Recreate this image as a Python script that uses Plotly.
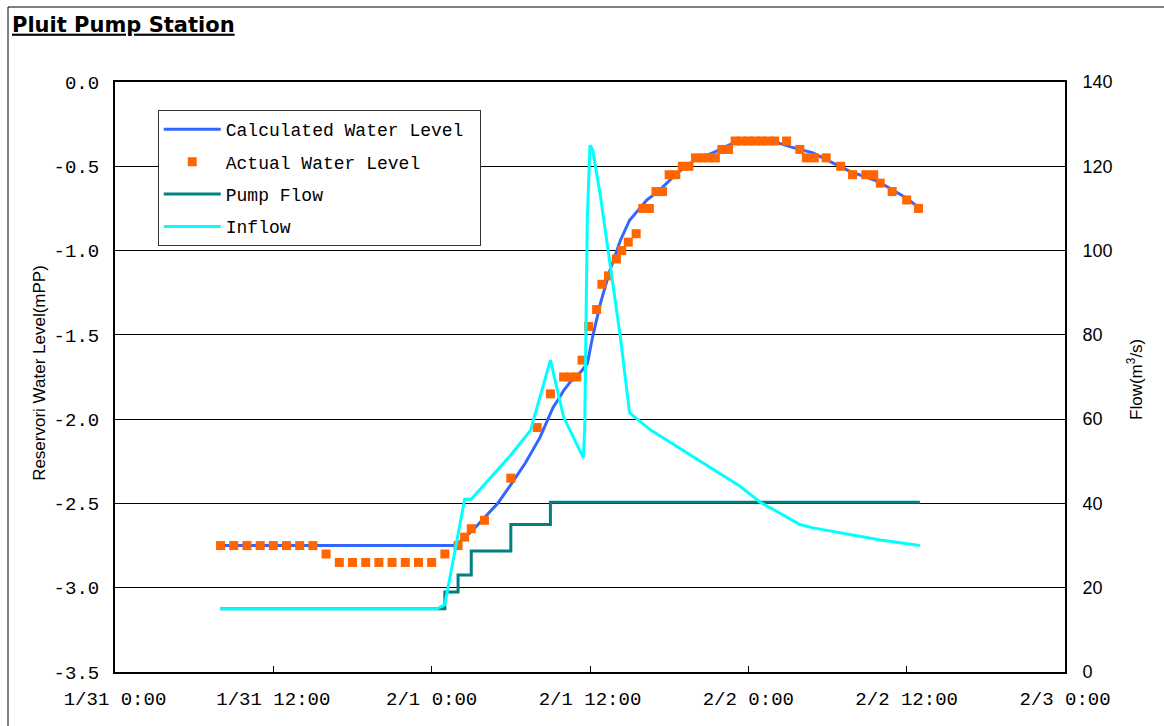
import pandas as pd
import plotly.graph_objects as go

BASE = pd.Timestamp("2007-01-31 00:00")

# ---- data (hours after 1/31 0:00) ----
calc_hours = [8, 25.8, 27.1, 29.0, 29.9, 31.1, 32.2, 33.2, 33.7, 34.0, 34.7, 35.3, 35.8, 36.2,
              36.8, 37.5, 38.3, 39.0, 40.3, 41.3, 42.6, 43.8, 45.6, 46.9, 48.9, 50.2, 51.2,
              52.9, 54.4, 55.7, 57.5, 58.5, 60.0, 61.0]
calc_level = [-2.75, -2.75, -2.66, -2.50, -2.40, -2.26, -2.11, -1.93, -1.87, -1.83, -1.76, -1.72,
              -1.67, -1.51, -1.31, -1.12, -0.94, -0.82, -0.70, -0.64, -0.54, -0.47, -0.41, -0.36,
              -0.345, -0.36, -0.385, -0.42, -0.48, -0.53, -0.58, -0.62, -0.69, -0.75]

actual_hours = [8, 9, 10, 11, 12, 13, 14, 15, 16, 17, 18, 19, 20, 21, 22, 23, 24, 25, 26, 26.5,
                27, 28, 30, 32, 33, 34, 34.5, 35, 35.4, 35.9, 36.5, 36.9, 37.4, 38.0, 38.4, 38.9,
                39.5, 40.0, 40.5, 41.0, 41.5, 42.0, 42.5, 43.0, 43.5, 44.0, 44.5, 45.0, 45.5,
                46.0, 46.5, 47.0, 47.5, 48.0, 48.5, 49.0, 49.5, 50.0, 50.9, 51.9, 52.4, 53.0,
                53.9, 55.0, 55.9, 56.9, 57.5, 58.0, 58.9, 60.0, 60.9]
actual_level = [-2.75, -2.75, -2.75, -2.75, -2.75, -2.75, -2.75, -2.75, -2.80, -2.85, -2.85,
                -2.85, -2.85, -2.85, -2.85, -2.85, -2.85, -2.80, -2.75, -2.70, -2.65, -2.60,
                -2.35, -2.05, -1.85, -1.75, -1.75, -1.75, -1.65, -1.45, -1.35, -1.20, -1.15,
                -1.05, -1.00, -0.95, -0.90, -0.75, -0.75, -0.65, -0.65, -0.55, -0.55, -0.50,
                -0.50, -0.45, -0.45, -0.45, -0.45, -0.40, -0.40, -0.35, -0.35, -0.35, -0.35,
                -0.35, -0.35, -0.35, -0.35, -0.40, -0.45, -0.45, -0.45, -0.50, -0.55, -0.55,
                -0.55, -0.60, -0.65, -0.70, -0.75]

pump_hours = [8, 25, 26, 27, 30, 33, 61]
pump_flow = [15, 19, 23, 28.7, 35, 40.3, 40.3]

inflow_hours = [8, 24.4, 25.0, 26.5, 27.0, 30.0, 31.5, 33.0, 34.0, 35.5, 35.6, 35.8, 36.0, 36.2,
                36.8, 38.3, 39.0, 40.6, 47.4, 48.9, 50.6, 51.9, 52.9, 55.0, 58.0, 61.0]
inflow_flow = [15, 15, 16, 41, 41, 51.5, 57.4, 74, 60.5, 50.8, 58, 108, 125, 124,
               112.7, 79.5, 61.5, 57.4, 44, 40.3, 37.3, 35, 34.2, 33, 31.3, 30]

x_tick_hours = [0, 12, 24, 36, 48, 60, 72]
x_tick_text = ["1/31 0:00", "1/31 12:00", "2/1 0:00", "2/1 12:00", "2/2 0:00", "2/2 12:00", "2/3 0:00"]
y_tick_vals = [0.0, -0.5, -1.0, -1.5, -2.0, -2.5, -3.0, -3.5]
y_tick_text = ["0.0", "-0.5", "-1.0", "-1.5", "-2.0", "-2.5", "-3.0", "-3.5"]
y2_tick_vals = [0, 20, 40, 60, 80, 100, 120, 140]


def to_time(hours):
    return [BASE + pd.Timedelta(hours=h) for h in hours]


MONO = "Liberation Mono"
SANS = "Liberation Sans"
NB = "\u00a0"

fig = go.Figure()
fig.add_trace(go.Scatter(x=to_time(calc_hours), y=calc_level, name="Calculated Water Level" + NB,
                         mode="lines", line=dict(color="#3366FF", width=3), legendgroup="a"))
fig.add_trace(go.Scatter(x=to_time(actual_hours), y=actual_level, name="Actual Water Level",
                         mode="markers", marker=dict(symbol="square", size=9, color="#FF6600"),
                         legendgroup="b"))
fig.add_trace(go.Scatter(x=to_time(pump_hours), y=pump_flow, name="Pump Flow", yaxis="y2",
                         mode="lines", line=dict(color="#008080", width=3, shape="hv"),
                         legendgroup="c"))
fig.add_trace(go.Scatter(x=to_time(inflow_hours), y=inflow_flow, name="Inflow", yaxis="y2",
                         mode="lines", line=dict(color="#00FFFF", width=3), legendgroup="d"))

fig.update_layout(
    width=1164, height=726,
    margin=dict(l=115, r=99, t=82, b=54),
    paper_bgcolor="white", plot_bgcolor="white",
    showlegend=True,
    legend=dict(x=0.045, y=0.9525, xanchor="left", yanchor="top",
                bgcolor="white", bordercolor="#333333", borderwidth=1,
                font=dict(family=MONO, size=18, color="black"),
                itemwidth=57, tracegroupgap=6, traceorder="grouped"),
    xaxis=dict(type="date", range=[BASE, BASE + pd.Timedelta(hours=72)],
               tickvals=to_time(x_tick_hours), ticktext=x_tick_text,
               ticks="inside", ticklen=6, tickcolor="black", tickwidth=1,
               showline=True, linecolor="black", linewidth=2, mirror=True,
               showgrid=False, zeroline=False, ticklabelstandoff=8,
               tickfont=dict(family=MONO, size=19, color="black")),
    yaxis=dict(range=[-3.5, 0], tickvals=y_tick_vals, ticktext=y_tick_text,
               showgrid=True, gridcolor="black", gridwidth=1,
               showline=True, linecolor="black", linewidth=2, mirror=True,
               zeroline=False, ticks="", ticklabelstandoff=10,
               tickfont=dict(family=MONO, size=19, color="black")),
    yaxis2=dict(range=[0, 140], tickvals=y2_tick_vals, overlaying="y", side="right",
                showgrid=False, zeroline=False, showline=True, linecolor="black", linewidth=2,
                ticks="inside", ticklen=5, tickcolor="black", ticklabelstandoff=12,
                tickfont=dict(family=SANS, size=18, color="black")),
    title=dict(text="<b><u>Pluit Pump Station</u></b>", xref="container", yref="container",
               x=12 / 1164, y=1 - 17 / 726, xanchor="left", yanchor="top",
               font=dict(family="DejaVu Sans", size=21, color="black")),
)

fig.add_annotation(text="Reservori Water Level(mPP)", textangle=-90, xref="paper", yref="paper",
                   x=(40 - 115) / 950, y=0.507, showarrow=False, xanchor="center", yanchor="middle",
                   font=dict(family=SANS, size=17, color="black"))
fig.add_annotation(text="Flow(m<sup>3</sup>/s)", textangle=-90, xref="paper", yref="paper",
                   x=(1135 - 115) / 950, y=0.495, showarrow=False, xanchor="center", yanchor="middle",
                   font=dict(family=SANS, size=17, color="black"))

fig.add_shape(type="rect", xref="paper", yref="paper",
              x0=(8 - 115) / 950, x1=(1175 - 115) / 950,
              y0=(672 - 740) / 590, y1=(672 - 7) / 590,
              line=dict(color="black", width=1), fillcolor="rgba(0,0,0,0)", layer="below")

fig.write_html("out.html")
